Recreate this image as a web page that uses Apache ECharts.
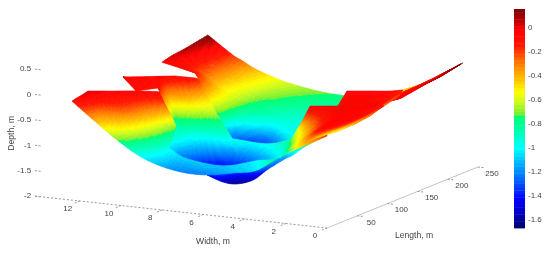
<!DOCTYPE html>
<html><head><meta charset="utf-8">
<script src="https://cdn.jsdelivr.net/npm/echarts@6/dist/echarts.min.js"></script>
<style>html,body{margin:0;background:#fff}#c{width:550px;height:254px}#c canvas{filter:blur(0.4px)}</style></head>
<body><div id="c"></div><script>
// ---- axis ticks ----
const widthTicks=[12,10,8,6,4,2,0];
const lengthTicks=[50,100,150,200,250];
const depthTicks=[0.5,0,-0.5,-1,-1.5,-2];
const barTicks=[0,-0.2,-0.4,-0.6,-0.8,-1,-1.2,-1.4,-1.6];
const depthMin=-1.667, depthMax=0.158;
const colorStops=[[0.158,120,0,0],[0.06,190,0,0],[-0.01,255,0,0],[-0.14,255,20,0],[-0.3,255,128,0],[-0.42,255,190,0],[-0.53,255,255,0],[-0.62,200,250,30],[-0.715,120,240,50],[-0.725,0,255,112],[-0.85,0,255,170],[-1.0,0,255,255],[-1.15,0,165,255],[-1.3,0,80,255],[-1.42,0,0,255],[-1.55,0,0,190],[-1.667,0,0,105]];

// ---- surface: far section ----
const farW=[12.38,11.17,10.72,10,8.88,8.5,7,5.34,4.4,2.91,1.75,0];
const farL=[
[225,225,225,225,225,225,225,225,225,225,225,225],
[190,190,190,190,190,190,190,190,190,190,190,190],
[165,165,165,165,165,165,165,165,165,165,165,165],
[155,153,152,146,130,140,144,125,125,125,125,125],
[149,148,147,135,121,134,138,117.6,120,120,120,120]];
const farZ=[
[0.17,-0.17,-0.26,-0.41,-0.56,-0.6,-0.7,-0.74,-0.73,-0.49,-0.28,0.17],
[0.09,-0.2,-0.3,-0.45,-0.62,-0.68,-0.8,-0.84,-0.82,-0.55,-0.3,0.08],
[0.05,-0.18,-0.28,-0.47,-0.66,-0.76,-0.88,-0.92,-0.88,-0.6,-0.3,0.05],
[0.02,-0.12,-0.16,-0.35,-0.68,-0.95,-1.0,-0.98,-0.85,-0.55,-0.3,-0.03],
[0,-0.095,-0.13,-0.295,-0.72,-1.25,-1.3,-1.05,-0.8,-0.5,-0.3,-0.03]];

// ---- surface: middle section ----
const midW=[
[12.56,11.98,11.39,10.82,10.1,9.63,8.22,7.29,5.38,2.6],
[12.56,11.62,11.23,10.57,9.77,8.91,7.37,6.42,4.52,2.55],
[12.56,11.27,10.86,10.25,9.58,8.61,6.99,5.61,4.01,2.5],
[12.56,10.89,10.57,9.86,9,8.37,7.04,5.26,3.71,2.5]];
const midL=[
[90.7,99.3,108.5,117.4,126.1,143.1,136.4,146,122.5,52],
[90.7,85,103,105.7,109.5,110.1,104.1,113.2,89.5,51],
[90.7,69.8,90.4,97.7,91.9,83.3,77.7,80.3,65.8,50],
[90.7,55.3,80.7,89.8,47,53.6,68,63.7,48.6,50]];
const midZ=[
[-0.02,-0.03,-0.04,-0.05,-0.1,-0.3,-0.5,-0.7,-0.7,-0.6],
[-0.02,-0.03,-0.06,-0.3,-0.4,-0.6,-0.8,-0.9,-0.8,-0.6],
[-0.02,-0.04,-0.08,-0.6,-0.78,-0.95,-1.05,-1.0,-0.9,-0.6],
[-0.02,-0.05,-0.1,-0.9,-1.05,-1.25,-1.4,-1.2,-1.0,-0.6]];

// ---- surface: near section ----
const nearW=[
[12.38,11.17,10.19,8.93,7.48,6.02,4.44,3.4,2.14,0.68,0],
[12.37,11.38,10.18,9.13,8.34,6.6,5.37,4.3,2.63,0.87,0.14],
[12.33,11.42,10.35,9.48,9,7.89,6.08,5.05,2.82,1.25,0.19],
[12.38,11.6,10.8,9.79,8.87,9.29,7.03,5.72,3,1.63,0.24]];
const nearL=[
[0,0,0,0,0,0,0,0,0,0,0],
[6.3,12.3,7.8,18.3,34.5,19.9,31.2,30.8,16.8,6.7,4.8],
[15,23.7,23.8,38.8,60.4,58.8,55.3,56.6,23.2,19.6,6.5],
[26.5,42,52,60.9,67.7,106.5,87.6,79.2,29.7,32.5,8]];
const nearZ=[
[-0.05,-0.43,-0.72,-1.02,-1.19,-1.22,-1.11,-1.01,-0.66,-0.34,-0.19],
[-0.03,-0.28,-0.52,-0.8,-1.0,-1.05,-1.05,-1.0,-0.7,-0.3,-0.18],
[0,-0.1,-0.25,-0.52,-0.72,-0.9,-1.0,-1.0,-0.7,-0.3,-0.15],
[0.02,-0.02,-0.03,-0.05,-0.1,-0.6,-1.0,-1.0,-0.7,-0.3,-0.12]];

// ---- surface: scour pit under the near section ----
const pitW=[
[6.08,5.81,5.62,4.95,4.26,4.11,3.73,3.44,2.41,1.72],
[6.71,6.16,5.78,5.2,4.66,4.27,3.64,3.45,2.42,1.58]];
const pitL=[
[9,26,42.5,46.2,46,67.4,70.9,77.3,59.3,46.9],
[30.3,37.9,48,54.9,59.6,72.9,67.7,77.6,59.6,42]];
const pitZ=[
[-1.25,-1.3,-1.35,-1.3,-1.15,-1.05,-0.95,-0.85,-0.6,-0.45],
[-1.4,-1.55,-1.62,-1.55,-1.35,-1.2,-1.05,-0.95,-0.7,-0.5]];

// ---- surface: right bank, upper and lower fin ----
const upperFinW=[
[2.73,1.85,1.08,1.03],
[2.46,1.57,0.82,1.15],
[2.11,1.38,0.61,1.18],
[1.75,1,0.31,1.19]];
const upperFinL=[
[126,134.2,141.2,160.7],
[112.1,116.3,127.2,159.9],
[94.9,101.6,115.3,149.4],
[77.8,80.5,95.1,134.9]];
const upperFinZ=[
[-0.03,-0.03,-0.03,-0.1],
[-0.05,-0.03,-0.05,-0.2],
[-0.05,-0.03,-0.08,-0.25],
[-0.05,-0.03,-0.05,-0.3]];
const lowerFinW=[
[2.67,1.91,0.95,0.31,0.23],
[2.88,1.64,0.67,0.11,0.57],
[3.45,1.44,0.2,0.02,0.78],
[3.57,1.76,0.41,0.39,1.08],
[3.62,2.59,1.19,1.45,1.55]];
const lowerFinL=[
[63,70.1,78.9,95.1,102.4],
[60,52.5,52.8,74.9,103.8],
[67.8,34.2,20.2,47,97.8],
[57.3,23.5,2.3,31.6,83.1],
[45.3,25.3,4.1,41,71]];
const lowerFinZ=[
[-0.02,-0.02,-0.02,-0.05,-0.1],
[-0.25,-0.1,-0.02,-0.08,-0.2],
[-0.55,-0.2,-0.02,-0.1,-0.3],
[-0.8,-0.4,-0.1,-0.2,-0.4],
[-1.0,-0.7,-0.4,-0.45,-0.5]];
// columns where a patch has a sharp corner
const midCorners=[1,2,3,4], farCorners=[2,4,5], nearCorners=[];

const patches=[
 {W:pitW,L:pitL,Z:pitZ,breaks:[]},
 {W:nearW,L:nearL,Z:nearZ,breaks:nearCorners},
 {W:midW,L:midL,Z:midZ,breaks:midCorners},
 {W:farL.map(()=>farW),L:farL,Z:farZ,breaks:farCorners},
 {W:upperFinW,L:upperFinL,Z:upperFinZ,breaks:[]},
 {W:lowerFinW,L:lowerFinL,Z:lowerFinZ,breaks:[]}
];

const view={x0:327,y0:228,xW:-20.6,xL:0.604,yW:-2.25,yL:-0.244,yZ:-50.8,zBase:-2};
function project(L,W,Z){return [view.x0+view.xW*W+view.xL*L, view.y0+view.yW*W+view.yL*L+view.yZ*(Z-view.zBase)];}
const LEVELS=64;
function colorOf(z){
  const step=(depthMax-depthMin)/LEVELS;
  let k=Math.floor((z-depthMin)/step); k=Math.max(0,Math.min(LEVELS-1,k));
  const v=depthMin+(k+0.5)*step;
  for(let i=0;i<colorStops.length-1;i++){
    const a=colorStops[i],b=colorStops[i+1];
    if(v<=a[0]&&v>=b[0]){const t=(a[0]-v)/(a[0]-b[0]);
      return 'rgb('+[1,2,3].map(j=>Math.round(a[j]+(b[j]-a[j])*t)).join(',')+')';}
  }
  return v>0?'rgb(120,0,0)':'rgb(0,0,105)';
}
const cells=[];
patches.forEach((p,pi)=>{for(let r=0;r<p.Z.length-1;r++)for(let c=0;c<p.Z[0].length-1;c++)cells.push([pi,r,c]);});
function crRow(row,c,t,breaks){
  const n=row.length,p1=row[c],p2=row[c+1];
  const p0=(c===0||breaks.includes(c))?2*p1-p2:row[c-1];
  const p3=(c+2>=n||breaks.includes(c+1))?2*p2-p1:row[c+2];
  return 0.5*(2*p1+(p2-p0)*t+(2*p0-5*p1+4*p2-p3)*t*t+(3*p1-p0-3*p2+p3)*t*t*t);
}
function val(m,br,r,c,s,t){return (1-s)*crRow(m[r],c,t,br)+s*crRow(m[r+1],c,t,br);}
function renderCell(params,api){
  const pi=api.value(0),r=api.value(1),c=api.value(2),p=patches[pi],kids=[],b=p.breaks;
  const pt=(s,t)=>api.coord(project(val(p.L,b,r,c,s,t),val(p.W,b,r,c,s,t),val(p.Z,b,r,c,s,t)));
  const d=(a,q)=>Math.hypot(a[0]-q[0],a[1]-q[1]);
  const A=pt(0,0),B=pt(0,1),C=pt(1,0),D=pt(1,1);
  const nS=Math.min(24,Math.max(1,Math.ceil(Math.max(d(A,C),d(B,D))/2)));
  const nT=Math.min(24,Math.max(1,Math.ceil(Math.max(d(A,B),d(C,D))/2)));
  for(let i=0;i<nS;i++)for(let j=0;j<nT;j++){
    const s0=i/nS,s1=(i+1)/nS,t0=j/nT,t1=(j+1)/nT;
    const col=colorOf(val(p.Z,b,r,c,(s0+s1)/2,(t0+t1)/2));
    kids.push({type:'polygon',shape:{points:[pt(s0,t0),pt(s0,t1),pt(s1,t1),pt(s1,t0)]},style:{fill:col,stroke:col,lineWidth:0.6}});
  }
  return {type:'group',children:kids};
}
const TXT='#444';const FAMILY='"Liberation Sans",Arial,sans-serif';
const FONT='8px '+FAMILY, TITLE_FONT='8.6px '+FAMILY;
const axisW=14.17;
function txt(p,dx,dy,s,extra,font){return Object.assign({type:'text',x:p[0]+dx,y:p[1]+dy,style:{text:String(s),font:font||FONT,fill:TXT,align:'center',verticalAlign:'middle'}},extra||{});}
function seg(a,b,dash,col){return {type:'line',shape:{x1:a[0],y1:a[1],x2:b[0],y2:b[1]},style:{stroke:col||'#999',lineWidth:1,lineDash:dash||null}};}
function renderAxes(params,api){
  const k=[];const P=(L,W,Z)=>api.coord(project(L,W,Z));
  k.push(seg(P(0,axisW,-2),P(0,0,-2),[2,2]));
  k.push(seg(P(0,0,-2),P(250,0,-2),null,'#c4c4c4'));
  widthTicks.forEach(w=>{k.push(seg(P(0,w,-2),P(-10,w,-2),[2,1.5]));k.push(txt(P(0,w,-2),-12,8,w));});
  lengthTicks.forEach(l=>{k.push(seg(P(l,0,-2),P(l,-0.3,-2),[2,1.5]));k.push(txt(P(l,0,-2),14,6.5,l));});
  depthTicks.forEach(d=>{k.push(seg(P(0,axisW,d),P(0,axisW-0.3,d),[2,1.5]));
    const q=P(0,axisW,d);k.push({type:'text',x:q[0]-4,y:q[1],style:{text:String(d),font:FONT,fill:TXT,align:'right',verticalAlign:'middle'}});});
  const o=P(0,0,-2);
  k.push(txt(o,-114,14,'Width, m',null,TITLE_FONT));
  k.push(txt(o,87,8,'Length, m',null,TITLE_FONT));
  k.push(txt(P(0,axisW,-1),-23,-12,'Depth, m',{rotation:Math.PI/2},TITLE_FONT));
  return {type:'group',children:k};
}
const barLevels=[];for(let i=0;i<LEVELS;i++)barLevels.push(depthMin+(i+0.5)*(depthMax-depthMin)/LEVELS);
function renderBar(params,api){
  const v=api.value(0),h=(depthMax-depthMin)/LEVELS;
  const a=api.coord([0,v+h/2]),b=api.coord([1,v-h/2]);
  return {type:'rect',shape:{x:a[0],y:a[1],width:b[0]-a[0],height:b[1]-a[1]+0.4},style:{fill:colorOf(v)}};
}
const chart=echarts.init(document.getElementById('c'),null,{renderer:'canvas'});
chart.setOption({
  animation:false,backgroundColor:'#fff',
  grid:[{left:0,top:0,width:550,height:254},{left:514,top:9,width:11,height:219}],
  xAxis:[{type:'value',min:0,max:550,show:false,gridIndex:0},{type:'value',min:0,max:1,show:false,gridIndex:1}],
  yAxis:[{type:'value',min:0,max:254,inverse:true,show:false,gridIndex:0},
    {type:'value',gridIndex:1,position:'right',min:depthMin,max:depthMax,splitLine:{show:false},
     axisLine:{show:false},
     axisTick:{show:true,length:2,inside:false,customValues:barTicks,lineStyle:{color:'#999'}},
     axisLabel:{customValues:barTicks,color:TXT,fontSize:8,fontFamily:FAMILY,margin:3,formatter:v=>String(v)}}],
  series:[
   {type:'custom',coordinateSystem:'cartesian2d',xAxisIndex:0,yAxisIndex:0,silent:true,z:1,data:[[0]],renderItem:renderAxes,clip:false},
   {type:'custom',coordinateSystem:'cartesian2d',xAxisIndex:0,yAxisIndex:0,silent:true,z:2,data:cells,renderItem:renderCell,clip:false,progressive:0,encode:{x:0,y:1}},
   {type:'custom',coordinateSystem:'cartesian2d',xAxisIndex:1,yAxisIndex:1,silent:true,z:2,data:barLevels.map(v=>[v]),renderItem:renderBar,progressive:0,encode:{y:0}}
  ]
});
</script></body></html>
